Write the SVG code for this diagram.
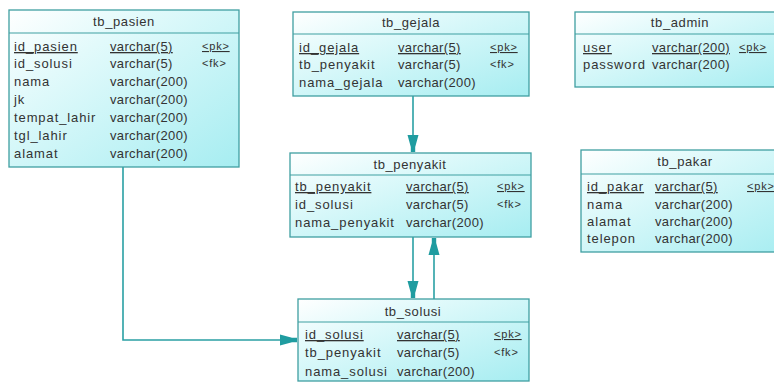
<svg xmlns="http://www.w3.org/2000/svg" width="774" height="383" viewBox="0 0 774 383">
<style>
.box{stroke:#3f9fa1;stroke-width:1.3;fill:url(#g)}
.div{stroke:#3f9fa1;stroke-width:1.2}
text{font-family:"Liberation Sans",Arial,sans-serif;font-size:13px;fill:#333;letter-spacing:0.35px}
.n{letter-spacing:0.9px}
.t{text-anchor:middle;font-size:13px;letter-spacing:0.6px}
.u{text-decoration:underline}
.k{font-size:11px;letter-spacing:0.8px}
.c{fill:none;stroke:#2aa0a4;stroke-width:1.6}
</style>
<defs>
<linearGradient id="g" x1="0" y1="0" x2="1" y2="1">
<stop offset="0" stop-color="#ffffff"/>
<stop offset="0.3" stop-color="#e2fafb"/>
<stop offset="1" stop-color="#a6edf1"/>
</linearGradient>
<marker id="a" viewBox="-18 -6 19 12" refX="0" refY="0" markerWidth="19" markerHeight="12" markerUnits="userSpaceOnUse" orient="auto">
<path d="M0,-2.2 L-5,-2.2 L-17,-5.5 L-17,5.5 L-5,2.2 L0,2.2 Z" fill="#1f9ca0"/>
</marker>
</defs>
<g id="connectors">
<path class="c" d="M123,167 V340 H297" marker-end="url(#a)"/>
<path class="c" d="M413,96 V152" marker-end="url(#a)"/>
<path class="c" d="M413,237 V298" marker-end="url(#a)"/>
<path class="c" d="M434,299 V238" marker-end="url(#a)"/>
</g>
<g id="tb_pasien">
<rect class="box" x="9" y="10" width="230" height="157"/>
<line class="div" x1="9" y1="33" x2="239" y2="33"/>
<text class="t" x="124" y="26">tb_pasien</text>
<text class="u n" x="14" y="51">id_pasien</text><text class="u" x="110" y="51">varchar(5)</text><text class="u k" x="202" y="50">&lt;pk&gt;</text>
<text class="n" x="14" y="68">id_solusi</text><text x="110" y="68">varchar(5)</text><text class="k" x="202" y="67">&lt;fk&gt;</text>
<text class="n" x="14" y="86">nama</text><text x="110" y="86">varchar(200)</text>
<text class="n" x="14" y="104">jk</text><text x="110" y="104">varchar(200)</text>
<text class="n" x="14" y="122">tempat_lahir</text><text x="110" y="122">varchar(200)</text>
<text class="n" x="14" y="140">tgl_lahir</text><text x="110" y="140">varchar(200)</text>
<text class="n" x="14" y="158">alamat</text><text x="110" y="158">varchar(200)</text>
</g>
<g id="tb_gejala">
<rect class="box" x="293" y="12" width="236" height="84"/>
<line class="div" x1="293" y1="34" x2="529" y2="34"/>
<text class="t" x="411" y="27">tb_gejala</text>
<text class="u n" x="299" y="52">id_gejala</text><text class="u" x="398" y="52">varchar(5)</text><text class="u k" x="490" y="51">&lt;pk&gt;</text>
<text class="n" x="299" y="69">tb_penyakit</text><text x="398" y="69">varchar(5)</text><text class="k" x="490" y="68">&lt;fk&gt;</text>
<text class="n" x="299" y="87">nama_gejala</text><text x="398" y="87">varchar(200)</text>
</g>
<g id="tb_admin">
<rect class="box" x="575" y="12" width="210" height="75"/>
<line class="div" x1="575" y1="34" x2="785" y2="34"/>
<text class="t" x="680" y="27">tb_admin</text>
<text class="u n" x="583" y="52">user</text><text class="u" x="652" y="52">varchar(200)</text><text class="u k" x="739" y="51">&lt;pk&gt;</text>
<text class="n" x="583" y="69">password</text><text x="652" y="69">varchar(200)</text>
</g>
<g id="tb_penyakit">
<rect class="box" x="290" y="153" width="241" height="84"/>
<line class="div" x1="290" y1="175" x2="531" y2="175"/>
<text class="t" x="410" y="169">tb_penyakit</text>
<text class="u n" x="295" y="191">tb_penyakit</text><text class="u" x="406" y="191">varchar(5)</text><text class="u k" x="497" y="190">&lt;pk&gt;</text>
<text class="n" x="295" y="209">id_solusi</text><text x="406" y="209">varchar(5)</text><text class="k" x="497" y="208">&lt;fk&gt;</text>
<text class="n" x="295" y="227">nama_penyakit</text><text x="406" y="227">varchar(200)</text>
</g>
<g id="tb_pakar">
<rect class="box" x="581" y="150" width="210" height="102"/>
<line class="div" x1="581" y1="174" x2="791" y2="174"/>
<text class="t" x="685" y="166">tb_pakar</text>
<text class="u n" x="587" y="191">id_pakar</text><text class="u" x="655" y="191">varchar(5)</text><text class="u k" x="747" y="190">&lt;pk&gt;</text>
<text class="n" x="587" y="209">nama</text><text x="655" y="209">varchar(200)</text>
<text class="n" x="587" y="226">alamat</text><text x="655" y="226">varchar(200)</text>
<text class="n" x="587" y="243">telepon</text><text x="655" y="243">varchar(200)</text>
</g>
<g id="tb_solusi">
<rect class="box" x="298" y="299" width="231" height="82"/>
<line class="div" x1="298" y1="322" x2="529" y2="322"/>
<text class="t" x="413" y="316">tb_solusi</text>
<text class="u n" x="305" y="339">id_solusi</text><text class="u" x="397" y="339">varchar(5)</text><text class="u k" x="494" y="338">&lt;pk&gt;</text>
<text class="n" x="305" y="357">tb_penyakit</text><text x="397" y="357">varchar(5)</text><text class="k" x="494" y="356">&lt;fk&gt;</text>
<text class="n" x="305" y="376">nama_solusi</text><text x="397" y="376">varchar(200)</text>
</g>
</svg>
